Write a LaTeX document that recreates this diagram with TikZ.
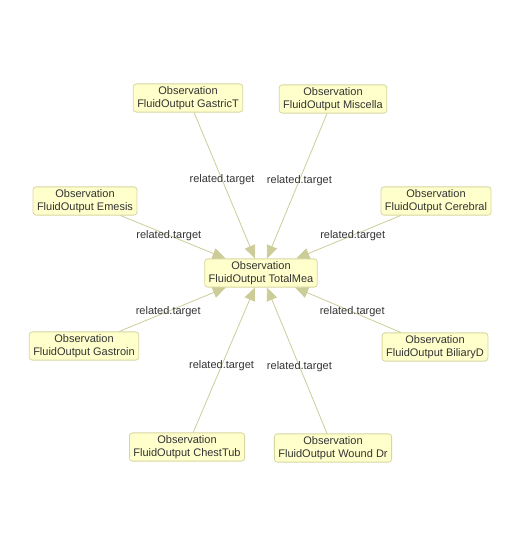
\documentclass[tikz,border=0pt]{standalone}
\usepackage{fontspec}
\setmainfont{Liberation Sans}
\usepackage{xcolor}
\usetikzlibrary{arrows.meta,positioning}

\definecolor{boxfill}{RGB}{255,255,204}
\definecolor{boxline}{RGB}{214,214,160}
\definecolor{linkline}{RGB}{204,204,153}
\definecolor{txt}{RGB}{51,51,51}

\begin{document}
\begin{tikzpicture}[
				x = 1pt, y = -1pt, % pixel grid, y downwards
				> = {Triangle[length=13pt,width=11pt]}, % arrow head style
				line width = 0.8pt, % line style
				font = \fontsize{11}{13}\selectfont
			]
			
			\tikzstyle{obs}=[
			draw = boxline,
			fill = boxfill,
			text = txt,
			rounded corners = 3pt,
			inner xsep = 4pt,
			inner ysep = 2.5pt,
			align = center
			]
			\tikzstyle{reltarget}=[pos = 0.46, text = txt]
			
			\useasboundingbox (0,0) rectangle (521,548);
			
			\node[obs] (total) at (261,273) {Observation\\FluidOutput TotalMea};
			
			\node[obs] (gastric) at (188,98) {Observation\\FluidOutput GastricT};
			\node[obs] (misc) at (333,99) {Observation\\FluidOutput Miscella};
			\node[obs] (emesis) at (85,201) {Observation\\FluidOutput Emesis};
			\node[obs] (cerebral) at (436,201) {Observation\\FluidOutput Cerebral};
			
			\node[obs] (gastroin) at (84,346) {Observation\\FluidOutput Gastroin};
			\node[obs] (biliary) at (435,347) {Observation\\FluidOutput BiliaryD};
			\node[obs] (chest) at (187,447) {Observation\\FluidOutput ChestTub};
			\node[obs] (wound) at (333,448) {Observation\\FluidOutput Wound Dr};
			
			\path[->, color = linkline] (gastric) edge node[reltarget] {related.target} (total);
			\path[->, color = linkline] (misc) edge node[reltarget] {related.target} (total);
			\path[->, color = linkline] (emesis) edge node[reltarget] {related.target} (total);
			\path[->, color = linkline] (cerebral) edge node[reltarget] {related.target} (total);
			
			\path[->, color = linkline] (gastroin) edge node[reltarget] {related.target} (total);
			\path[->, color = linkline] (biliary) edge node[reltarget] {related.target} (total);
			\path[->, color = linkline] (chest) edge node[reltarget] {related.target} (total);
			\path[->, color = linkline] (wound) edge node[reltarget] {related.target} (total);
		\end{tikzpicture}
\end{document}
